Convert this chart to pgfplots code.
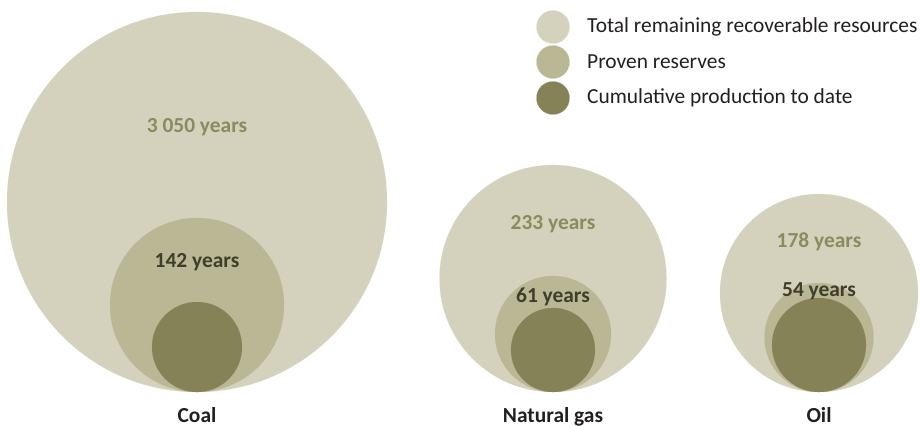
\documentclass[border=0pt]{standalone}
\usepackage{pgfplots}
\pgfplotsset{compat=1.18}
\usepackage{fontspec}
\setmainfont{Carlito}
\definecolor{c1}{HTML}{D4D2BC}
\definecolor{c2}{HTML}{BAB795}
\definecolor{c3}{HTML}{868257}
\definecolor{t1}{HTML}{8C8A5E}
\definecolor{t2}{HTML}{3F3E2B}
\definecolor{tx}{HTML}{231F20}
\pgfplotsset{
  bubble/.style={scatter, only marks, mark=*,
    scatter/use mapped color={draw=#1, fill=#1, line width=0.1pt},
    visualization depends on={\thisrow{r}\as\rad},
    scatter/@pre marker code/.append style={/tikz/mark size=\rad bp}}
}
\tikzset{
  lab/.style={font=\bfseries\fontsize{21.5}{25}\selectfont, inner sep=0pt},
  leg/.style={font=\fontsize{21.5}{25}\selectfont, inner sep=0pt, anchor=west, text=tx}
}
\begin{document}
\begin{tikzpicture}
\begin{axis}[width=921bp, height=426bp, scale only axis,
  xmin=0, xmax=921, ymin=0, ymax=426, hide axis, clip=false, set layers=standard]
% invisible frame to fix the bounding box
\addplot[draw=none, mark=none, forget plot] coordinates {(0,0) (921,426)};
% Total remaining recoverable resources
\addplot[bubble=c1] table {
x y r
197 224 190
553 147.5 113.5
819 133 99
553 399 16.5
};
% Proven reserves
\addplot[bubble=c2] table {
x y r
197 121 87
553 92 58
819 88.5 54.5
553 364 16.5
};
% Cumulative production to date
\addplot[bubble=c3] table {
x y r
197 79 45
553 76 42
819 81 47
553 328 16.5
};
\begin{pgfonlayer}{axis foreground}
\node[lab, text=t1] at (axis cs:197,299) {3 050 years};
\node[lab, text=t2] at (axis cs:197,164) {142 years};
\node[lab, text=t1] at (axis cs:553,202) {233 years};
\node[lab, text=t2] at (axis cs:553,129) {61 years};
\node[lab, text=t1] at (axis cs:819,184) {178 years};
\node[lab, text=t2] at (axis cs:819,135) {54 years};
\node[lab, text=tx, anchor=base] at (axis cs:197,4) {Coal};
\node[lab, text=tx, anchor=base] at (axis cs:553,4) {Natural gas};
\node[lab, text=tx, anchor=base] at (axis cs:819,4) {Oil};
\node[leg] at (axis cs:587,399) {Total remaining recoverable resources};
\node[leg] at (axis cs:587,364) {Proven reserves};
\node[leg] at (axis cs:587,328) {Cumulative production to date};
\end{pgfonlayer}
\end{axis}
\end{tikzpicture}
\end{document}
